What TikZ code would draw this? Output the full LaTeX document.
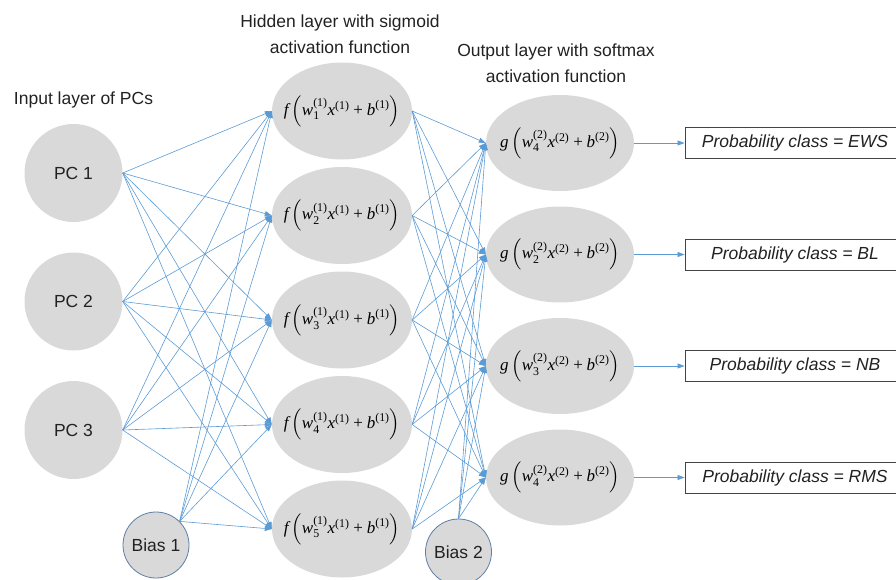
\documentclass[tikz,border=0pt]{standalone}
\usepackage{fontspec}
\usepackage{amsmath}
\setmainfont{Liberation Sans}
\newfontfamily\tms{Liberation Serif}
\usetikzlibrary{shapes.geometric,arrows.meta}

\definecolor{nodegray}{HTML}{D9D9D9}
\definecolor{linkblue}{HTML}{5B9BD5}
\definecolor{biasedge}{HTML}{5F7FA6}
\definecolor{ink}{HTML}{222222}

% Times-like letters inside the activation formulas; the zero-width box
% keeps the ellipse at its set size whatever the formula's width
\newcommand\tvar[1]{\text{\tms\itshape #1}}
\newcommand\tnum[1]{\text{\tms #1}}
\newcommand\actf[3]{\makebox[0pt][c]{$\tvar{#1}\left(\tvar{w}_{\tnum{#2}}^{\tnum{(#3)}}\tvar{x}^{\tnum{(#3)}}\mathbin{\tnum{+}}\tvar{b}^{\tnum{(#3)}}\right)$}}

\begin{document}
\begin{tikzpicture}[x=1pt,y=-1pt,
  pcnode/.style={circle, fill=nodegray, minimum size=98pt, inner sep=0pt,
    text=ink, font=\fontsize{17.5}{21}\selectfont},
  biasnode/.style={circle, fill=nodegray, draw=biasedge, line width=0.8pt,
    minimum size=66pt, inner sep=0pt, text=ink, font=\fontsize{17.5}{21}\selectfont},
  neuron/.style={ellipse, fill=nodegray, minimum width=140pt, minimum height=97pt,
    inner sep=0pt, text=black, font=\fontsize{17}{20}\selectfont},
  outneuron/.style={neuron, minimum width=148pt, minimum height=96pt},
  outbox/.style={draw=ink!85, line width=0.9pt, fill=white, minimum width=220pt,
    minimum height=31pt, inner sep=0pt, text=ink,
    font=\fontsize{17.5}{21}\selectfont\itshape},
  link/.style={draw=linkblue, line width=0.6pt, -{Triangle[length=7pt,width=5pt]}},
  caption/.style={align=center, text=ink, font=\fontsize{17.5}{26}\selectfont}]
\useasboundingbox (0,0) rectangle (896,579);

% layer captions
\node[caption] (capin)  at (83.5,100) {Input layer of PCs};
\node[caption] (caphid) at (340,34.5) {Hidden layer with sigmoid\\activation function};
\node[caption] (capout) at (556,63.5) {Output layer with softmax\\activation function};

% input layer
\node[pcnode] (pc1) at (73.5,173)   {PC 1};
\node[pcnode] (pc2) at (73.5,301.5) {PC 2};
\node[pcnode] (pc3) at (73.5,430)   {PC 3};
\node[biasnode] (b1) at (156,545)   {Bias 1};

% hidden layer
\node[neuron] (h1) at (342,111)   {\actf{f}{1}{1}};
\node[neuron] (h2) at (342,215.5) {\actf{f}{2}{1}};
\node[neuron] (h3) at (342,320)   {\actf{f}{3}{1}};
\node[neuron] (h4) at (342,424.5) {\actf{f}{4}{1}};
\node[neuron] (h5) at (342,529)   {\actf{f}{5}{1}};
\node[biasnode] (b2) at (458.5,552) {Bias 2};

% output layer
\node[outneuron] (o1) at (560,143)   {\actf{g}{4}{2}};
\node[outneuron] (o2) at (560,254.5) {\actf{g}{2}{2}};
\node[outneuron] (o3) at (560,366)   {\actf{g}{3}{2}};
\node[outneuron] (o4) at (560,477.5) {\actf{g}{4}{2}};

% class labels
\node[outbox] (p1) at (795,143)   {Probability class = EWS};
\node[outbox] (p2) at (795,254.5) {Probability class = BL};
\node[outbox] (p3) at (795,366)   {Probability class = NB};
\node[outbox] (p4) at (795,477.5) {Probability class = RMS};

% input -> hidden
\foreach \s in {pc1,pc2,pc3}
  \foreach \t in {h1,h2,h3,h4,h5}
    \draw[link] (\s.east) -- (\t.west);
\foreach \t in {h1,h2,h3,h4,h5}
  \draw[link] (b1.north east) -- (\t.west);

% hidden -> output
\foreach \s in {h1,h2,h3,h4,h5}
  \foreach \t in {o1,o2,o3,o4}
    \draw[link] (\s.east) -- (\t.west);
\foreach \t in {o1,o2,o3,o4}
  \draw[link] (b2.north) -- (\t.west);

% output -> class
\foreach \i in {1,2,3,4}
  \draw[link] (o\i.east) -- (p\i.west);
\end{tikzpicture}
\end{document}
